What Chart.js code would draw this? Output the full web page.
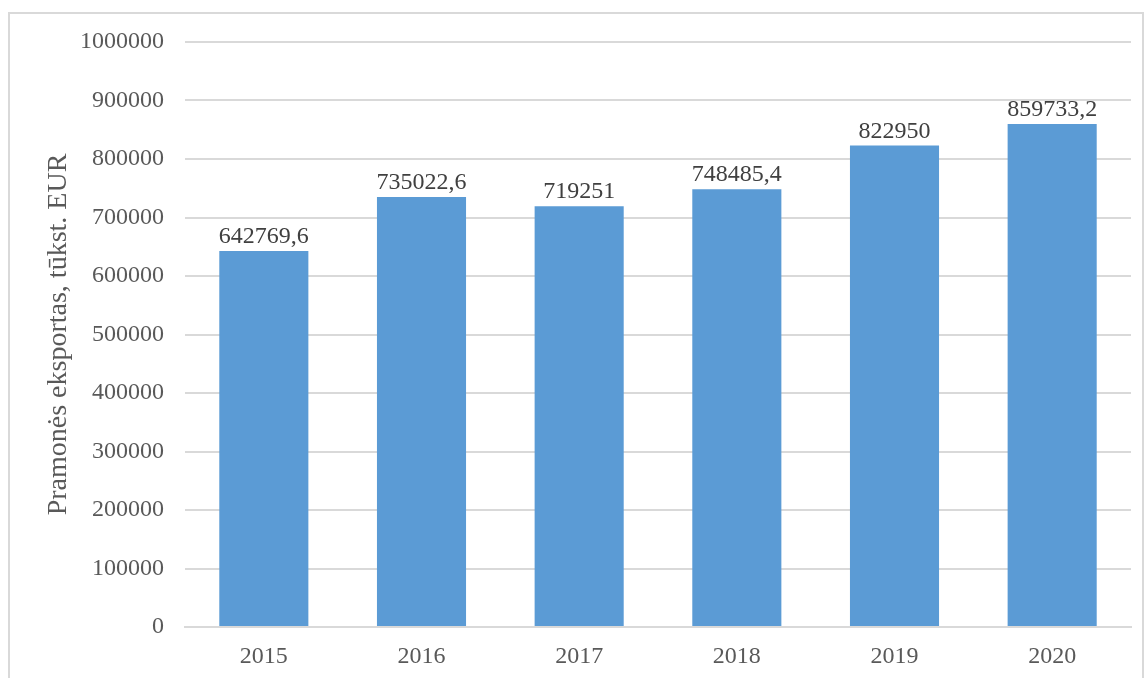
<!DOCTYPE html>
<html>
<head>
<meta charset="utf-8">
<script src="https://cdn.jsdelivr.net/npm/chart.js@4"></script>
<style>
  html, body { margin: 0; padding: 0; background: #fff; overflow: hidden; }
  #frame { position: absolute; left: 8px; top: 12px; width: 1136px; height: 700px; border: 2px solid #d9d9d9; box-sizing: border-box; }
  #wrap { position: absolute; left: 0; top: 0; width: 1147px; height: 678px; }
</style>
</head>
<body>
<div id="frame"></div>
<div id="wrap"><canvas id="chart"></canvas></div>
<script>
const years = ['2015', '2016', '2017', '2018', '2019', '2020'];
const exportValues = [642769.6, 735022.6, 719251, 748485.4, 822950, 859733.2];
const yTicks = [0, 100000, 200000, 300000, 400000, 500000, 600000, 700000, 800000, 900000, 1000000];

const fontFamily = '"Liberation Serif", "Times New Roman", serif';

// values printed above each bar, decimal comma like the original
const valueLabels = {
  id: 'valueLabels',
  afterDatasetsDraw(chart) {
    const ctx = chart.ctx;
    const meta = chart.getDatasetMeta(0);
    ctx.save();
    ctx.font = '24px ' + fontFamily;
    ctx.fillStyle = '#404040';
    ctx.textAlign = 'center';
    ctx.textBaseline = 'alphabetic';
    meta.data.forEach((bar, i) => {
      const txt = String(exportValues[i]).replace('.', ',');
      ctx.fillText(txt, bar.x, bar.y - 8);
    });
    ctx.restore();
  }
};

new Chart(document.getElementById('chart'), {
  type: 'bar',
  data: {
    labels: years,
    datasets: [{
      data: exportValues,
      backgroundColor: '#5b9bd5',
      barPercentage: 0.565,
      categoryPercentage: 1
    }]
  },
  options: {
    responsive: true,
    maintainAspectRatio: false,
    animation: false,
    layout: { padding: { left: 0, right: 16, top: 42, bottom: 0 } },
    plugins: { legend: { display: false }, tooltip: { enabled: false } },
    scales: {
      x: {
        grid: { display: false, drawTicks: false },
        border: { color: '#d9d9d9', width: 2 },
        ticks: { color: '#595959', font: { family: fontFamily, size: 24 }, padding: 15 },
        afterFit: s => { s.height = 51; }
      },
      y: {
        min: 0,
        max: 1000000,
        afterBuildTicks: s => { s.ticks = yTicks.map(v => ({ value: v })); },
        grid: { color: '#d9d9d9', lineWidth: 2, drawTicks: false },
        border: { display: false },
        ticks: { color: '#595959', font: { family: fontFamily, size: 24 }, padding: 21, callback: v => String(v) },
        title: {
          display: true,
          text: 'Pramonės eksportas, tūkst. EUR',
          color: '#595959',
          font: { family: fontFamily, size: 28 },
          padding: { top: 42, bottom: 0 }
        },
        afterFit: s => { s.width = 185; }
      }
    }
  },
  plugins: [valueLabels]
});
</script>
</body>
</html>
